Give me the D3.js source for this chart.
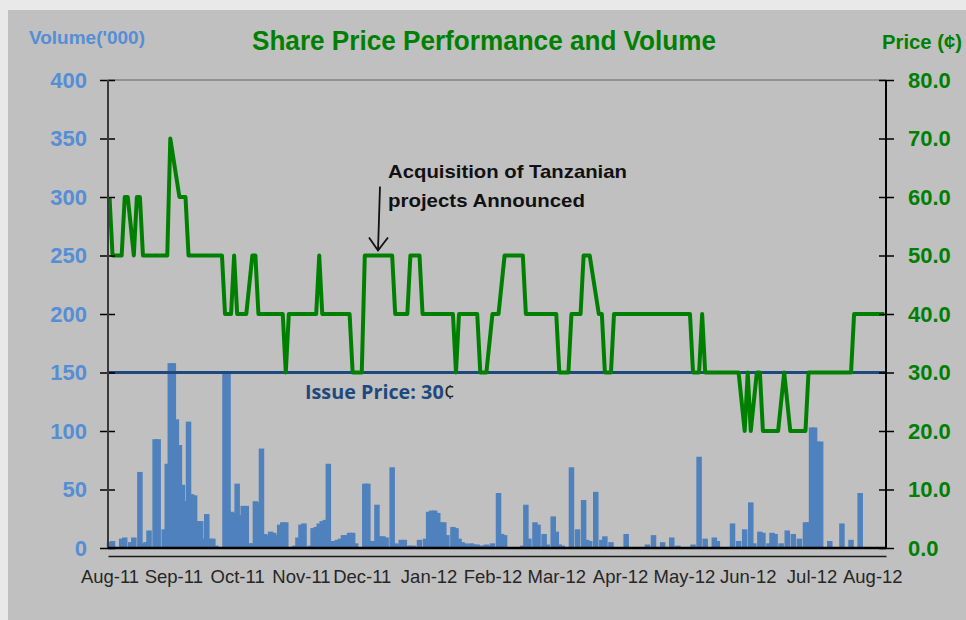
<!DOCTYPE html>
<html>
<head>
<meta charset="utf-8">
<title>Share Price Performance and Volume</title>
<script src="https://d3js.org/d3.v7.min.js"></script>
<style>
  body { margin: 0; background: #e9e9e9; }
  svg { display: block; }
  text { font-family: "Liberation Sans", Arial, Helvetica, sans-serif; }
</style>
</head>
<body>
<svg id="chart" width="966" height="620"></svg>
<script>
// month labels sit on trading-day indices
const monthLabels = ["Aug-11", "Sep-11", "Oct-11", "Nov-11", "Dec-11", "Jan-12", "Feb-12",
                     "Mar-12", "Apr-12", "May-12", "Jun-12", "Jul-12", "Aug-12"];
const monthDays = [0, 21, 42, 63, 83, 105, 126, 147, 168, 189, 210, 231, 251];
const nDays = 256;

const volumeTicks = [0, 50, 100, 150, 200, 250, 300, 350, 400];
const priceTicks = [0, 10, 20, 30, 40, 50, 60, 70, 80];

// [trading day, volume '000] - days not listed had no visible volume
const volume = [
  [0,5],[1,6],[4,8],[5,9],[7,5],[8,9],[10,65],[11,4],[12,5],[13,15],[15,93],[16,93],[18,16],
  [19,72],[20,158],[21,158],[22,110],[23,88],[24,54],[25,40],[26,108],[27,46],[28,45],[29,23],
  [30,23],[31,8],[32,29],[33,8],[34,8],[35,2],[38,150],[39,150],[40,31],[41,30],[42,55],[43,28],
  [44,36],[45,36],[46,4],[47,4],[48,40],[49,39],[50,85],[51,12],[52,11],[53,14],[54,13],[55,11],
  [56,20],[57,22],[58,22],[60,1],[61,2],[62,9],[63,20],[64,21],[66,2],[67,17],[68,18],[69,21],
  [70,23],[71,24],[72,72],[73,6],[74,6],[75,7],[76,8],[77,11],[78,11],[79,13],[80,13],[81,4],
  [84,55],[85,55],[86,6],[87,6],[88,37],[89,10],[90,10],[91,9],[93,69],[94,4],[95,3],[96,7],
  [97,7],[98,2],[99,2],[100,2],[102,7],[104,8],[105,31],[106,32],[107,32],[108,30],[109,22],
  [110,22],[111,11],[113,18],[114,17],[115,8],[116,5],[117,4],[118,3],[119,4],[120,3],[121,3],
  [122,2],[123,2],[124,3],[125,2],[126,4],[128,47],[129,12],[130,11],[136,2],[137,37],[138,8],
  [140,22],[141,20],[143,12],[144,3],[146,27],[147,14],[148,3],[149,2],[152,69],[154,16],
  [156,41],[157,7],[158,6],[160,48],[162,7],[163,10],[165,5],[170,12],[177,3],[179,11],[182,5],
  [185,9],[187,2],[192,3],[194,78],[196,8],[199,9],[200,6],[205,21],[207,6],[209,16],[211,39],
  [212,4],[214,14],[215,13],[217,4],[218,13],[219,12],[221,4],[223,15],[225,12],[227,8],
  [229,22],[230,22],[231,103],[232,103],[233,91],[234,91],[237,6],[241,21],[244,7],[247,47]
];

// [trading day, closing price in cents] at each turn of the line
const price = [
  [0,60],[1,50],[4,50],[5,60],[6,60],[8,50],[9,60],[10,60],[11,50],[19,50],[20,70],[23,60],
  [25,60],[26,50],[37,50],[38,40],[40,40],[41,50],[42,40],[45,40],[47,50],[48,50],[49,40],
  [57,40],[58,30],[59,40],[68,40],[69,50],[70,40],[79,40],[80,30],[83,30],[84,50],[93,50],
  [94,40],[98,40],[99,50],[102,50],[103,40],[113,40],[114,30],[115,40],[121,40],[122,30],
  [124,30],[126,40],[128,40],[130,50],[136,50],[137,40],[147,40],[148,30],[151,30],[152,40],
  [155,40],[156,50],[158,50],[161,40],[162,40],[163,30],[165,30],[166,40],[191,40],[192,30],
  [194,30],[195,40],[196,30],[207,30],[209,20],[210,30],[211,20],[213,30],[214,30],[215,20],
  [220,20],[222,30],[224,20],[229,20],[230,30],[244,30],[245,40],[255,40]
];

const issuePrice = 30;
const announceDay = 89;

let svg = d3.select('#chart');
let plotLeft = 108, plotRight = 886, plotTop = 80, plotBottom = 548;
let barW = 5.5;

let x = d3.scaleLinear().domain([0, nDays]).range([plotLeft, plotRight]);
let yVol = d3.scaleLinear().domain([0, 400]).range([plotBottom, plotTop]);
let yPrice = d3.scaleLinear().domain([0, 80]).range([plotBottom, plotTop]);

svg.append('rect').attr('x', 8).attr('y', 10).attr('width', 958).attr('height', 610)
  .attr('fill', '#c0c0c0');

// plot top border
svg.append('line').attr('x1', plotLeft).attr('x2', plotRight).attr('y1', plotTop).attr('y2', plotTop)
  .attr('stroke', '#828282').attr('stroke-width', 1.5);

// volume bars
svg.append('g').selectAll('rect')
  .data(volume)
  .join('rect')
    .attr('x', d => x(d[0] + 0.5) - barW / 2)
    .attr('width', barW)
    .attr('y', d => yVol(d[1]))
    .attr('height', d => yVol(0) - yVol(d[1]))
    .attr('fill', '#4f81bd');

// issue price line
svg.append('line').attr('x1', plotLeft).attr('x2', plotRight)
  .attr('y1', yPrice(issuePrice)).attr('y2', yPrice(issuePrice))
  .attr('stroke', '#1f497d').attr('stroke-width', 3);

// price line
let line = d3.line().x(d => x(d[0] + 0.5)).y(d => yPrice(d[1]));
svg.append('path').datum(price)
  .attr('d', line)
  .attr('fill', 'none')
  .attr('stroke', '#008000')
  .attr('stroke-width', 4)
  .attr('stroke-linejoin', 'round');

// left axis (volume)
let axL = svg.append('g').attr('transform', 'translate(' + plotLeft + ',0)')
  .call(d3.axisLeft(yVol).tickValues(volumeTicks).tickSize(8).tickPadding(13));
axL.select('.domain').remove();
axL.selectAll('.tick line').attr('x1', 7).attr('x2', -8).attr('stroke', '#000').attr('stroke-width', 1.5);
axL.selectAll('.tick text').attr('fill', '#558ed5')
  .style('font-family', '"Liberation Sans", Arial, sans-serif')
  .style('font-size', '22px').style('font-weight', 'bold');
svg.append('line').attr('x1', plotLeft).attr('x2', plotLeft).attr('y1', plotTop).attr('y2', plotBottom)
  .attr('stroke', '#3a3a3a').attr('stroke-width', 2);

// right axis (price)
let axR = svg.append('g').attr('transform', 'translate(' + plotRight + ',0)')
  .call(d3.axisRight(yPrice).tickValues(priceTicks).tickFormat(d3.format('.1f')).tickSize(8).tickPadding(14));
axR.select('.domain').remove();
axR.selectAll('.tick line').attr('x1', -7).attr('x2', 8).attr('stroke', '#000').attr('stroke-width', 1.5);
axR.selectAll('.tick text').attr('fill', '#008000')
  .style('font-family', '"Liberation Sans", Arial, sans-serif')
  .style('font-size', '22px').style('font-weight', 'bold');
svg.append('line').attr('x1', plotRight).attr('x2', plotRight).attr('y1', plotTop).attr('y2', plotBottom)
  .attr('stroke', '#000').attr('stroke-width', 2);

// zero line of the volume axis
svg.append('line').attr('x1', plotLeft).attr('x2', plotRight).attr('y1', plotBottom).attr('y2', plotBottom)
  .attr('stroke', '#000').attr('stroke-width', 2.5);

// category axis with month labels
let axB = svg.append('g').attr('transform', 'translate(0,556)')
  .call(d3.axisBottom(x).tickValues(monthDays.map(d => d + 0.5))
    .tickFormat((d, i) => monthLabels[i]).tickSize(0).tickPadding(14));
axB.select('.domain').attr('stroke', '#1a1a1a').attr('stroke-width', 1.5);
axB.selectAll('.tick text').attr('fill', '#262626')
  .style('font-family', '"Liberation Sans", Arial, sans-serif')
  .style('font-size', '18.5px');

// titles
svg.append('text').attr('x', 484).attr('y', 50).attr('text-anchor', 'middle')
  .attr('textLength', 464).attr('lengthAdjust', 'spacingAndGlyphs')
  .style('font-size', '27px').style('font-weight', 'bold').attr('fill', '#008000')
  .text('Share Price Performance and Volume');
svg.append('text').attr('x', 29).attr('y', 43.5)
  .attr('textLength', 116).attr('lengthAdjust', 'spacingAndGlyphs')
  .style('font-size', '18.5px').style('font-weight', 'bold').attr('fill', '#558ed5')
  .text("Volume('000)");
svg.append('text').attr('x', 882).attr('y', 48.5)
  .attr('textLength', 80).attr('lengthAdjust', 'spacingAndGlyphs')
  .style('font-size', '20px').style('font-weight', 'bold').attr('fill', '#008000')
  .text('Price (¢)');

// issue price label
let issue = svg.append('text').attr('x', 305).attr('y', yPrice(issuePrice) + 26)
  .attr('textLength', 150).attr('lengthAdjust', 'spacingAndGlyphs')
  .style('font-family', '"Open Sans", sans-serif').style('font-size', '20px')
  .style('font-weight', 'bold');
issue.append('tspan').attr('fill', '#1f497d').text('Issue Price: 30');
issue.append('tspan').attr('fill', '#222').style('font-weight', 'normal').text('¢');

// announcement arrow and note
let tipX = x(announceDay + 0.5) - 2, tipY = yPrice(50) - 5;
let ann = svg.append('g').attr('stroke', '#111').attr('stroke-width', 1.8).attr('fill', 'none');
ann.append('line').attr('x1', tipX + 2).attr('y1', tipY - 64).attr('x2', tipX).attr('y2', tipY);
ann.append('path').attr('d', 'M' + (tipX - 9) + ',' + (tipY - 13) + 'L' + tipX + ',' + tipY + 'L' + (tipX + 10) + ',' + (tipY - 13));

let note = svg.append('g').attr('fill', '#111')
  .style('font-family', '"Open Sans", sans-serif').style('font-size', '19px').style('font-weight', 'bold');
note.append('text').attr('x', tipX + 10).attr('y', tipY - 73)
  .attr('textLength', 239).attr('lengthAdjust', 'spacingAndGlyphs')
  .text('Acquisition of Tanzanian');
note.append('text').attr('x', tipX + 10).attr('y', tipY - 44)
  .attr('textLength', 197).attr('lengthAdjust', 'spacingAndGlyphs')
  .text('projects Announced');
</script>
</body>
</html>
